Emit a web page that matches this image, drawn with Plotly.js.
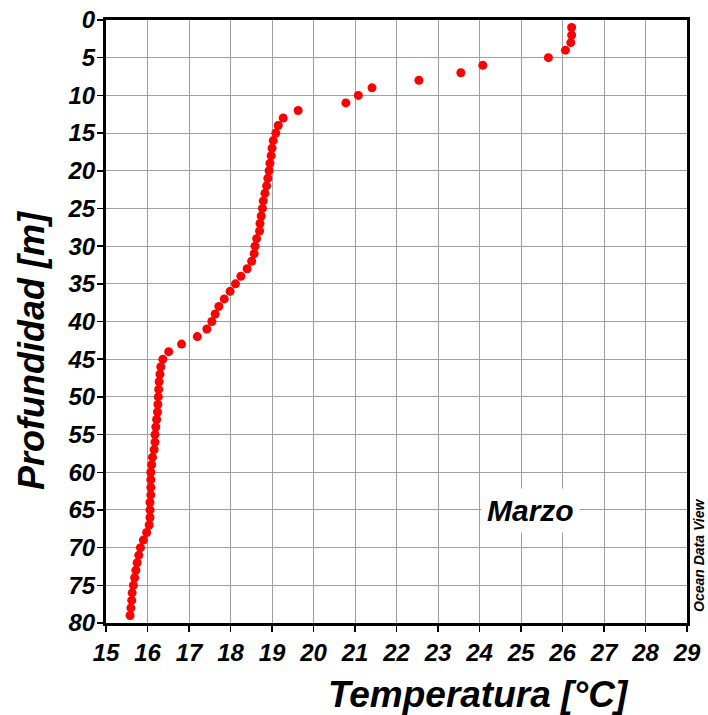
<!DOCTYPE html>
<html>
<head>
<meta charset="utf-8">
<script src="https://cdn.plot.ly/plotly-3.0.1.min.js"></script>
<style>html,body{margin:0;padding:0;background:#fff;}#chart{width:708px;height:715px;}</style>
</head>
<body>
<div id="chart"></div>
<script>
const depth = [1,2,3,4,5,6,7,8,9,10,11,12,13,14,15,16,17,18,19,20,21,22,23,24,25,26,27,28,29,30,31,32,33,34,35,36,37,38,39,40,41,42,43,44,45,46,47,48,49,50,51,52,53,54,55,56,57,58,59,60,61,62,63,64,65,66,67,68,69,70,71,72,73,74,75,76,77,78,79];
const temperature = [26.22,26.22,26.2,26.07,25.66,24.08,23.55,22.54,21.41,21.08,20.78,19.63,19.27,19.15,19.09,19.03,19.0,18.98,18.95,18.93,18.9,18.87,18.83,18.79,18.77,18.74,18.71,18.7,18.63,18.59,18.57,18.51,18.4,18.25,18.12,17.99,17.85,17.72,17.63,17.55,17.43,17.2,16.82,16.51,16.37,16.32,16.3,16.28,16.27,16.26,16.25,16.24,16.22,16.2,16.18,16.18,16.16,16.12,16.1,16.08,16.08,16.08,16.08,16.06,16.06,16.06,16.04,15.98,15.9,15.83,15.79,15.75,15.72,15.69,15.66,15.63,15.62,15.6,15.58];
const xTicks = [15,16,17,18,19,20,21,22,23,24,25,26,27,28,29];
const yTicks = [0,5,10,15,20,25,30,35,40,45,50,55,60,65,70,75,80];

const fam = '"Liberation Sans", Arial, sans-serif';
const bi = (size) => ({family: fam, size: size, color: '#000', weight: 'bold', style: 'italic'});

const trace = {
  x: temperature, y: depth, type: 'scatter', mode: 'markers',
  marker: {color: '#ff0000', size: 9, line: {width: 0}},
  hoverinfo: 'skip'
};

const L = 106, R = 21, T = 20, B = 92, W = 708, H = 715;
const pw = W - L - R, ph = H - T - B;
const px = (x) => (x - L) / pw;
const py = (y) => 1 - (y - T) / ph;

const layout = {
  width: W, height: H,
  margin: {l: L, r: R, t: T, b: B},
  paper_bgcolor: '#fff', plot_bgcolor: '#fff',
  showlegend: false,
  xaxis: {
    range: [15, 29], tickvals: xTicks, ticktext: xTicks.map(String),
    showgrid: true, gridcolor: '#a0a0a0', gridwidth: 1,
    showline: true, linecolor: '#000', linewidth: 3, mirror: true,
    ticks: 'outside', ticklen: 6, tickwidth: 1.5, tickcolor: '#000',
    tickfont: bi(24), zeroline: false
  },
  yaxis: {
    range: [80, 0], tickvals: yTicks, ticktext: yTicks.map(String),
    showgrid: true, gridcolor: '#a0a0a0', gridwidth: 1,
    showline: true, linecolor: '#000', linewidth: 3, mirror: true,
    ticks: 'outside', ticklen: 6, tickwidth: 1.5, tickcolor: '#000',
    tickfont: bi(24), zeroline: false, ticklabelstandoff: -3
  },
  annotations: [
    {x: px(478), y: py(694), xref: 'paper', yref: 'paper', xanchor: 'center', yanchor: 'middle',
     text: 'Temperatura [°C]', showarrow: false, font: bi(37)},
    {x: px(31), y: py(351), xref: 'paper', yref: 'paper', xanchor: 'center', yanchor: 'middle',
     text: 'Profundidad [m]', showarrow: false, textangle: -90, font: bi(36)},
    {x: px(530), y: py(510), xref: 'paper', yref: 'paper', xanchor: 'center', yanchor: 'middle',
     text: 'Marzo', showarrow: false, font: bi(30), bgcolor: '#fff', borderpad: 5},
    {x: px(699), y: py(556), xref: 'paper', yref: 'paper', xanchor: 'center', yanchor: 'middle',
     text: 'Ocean Data View', showarrow: false, textangle: -90, font: bi(14)}
  ]
};

Plotly.newPlot('chart', [trace], layout, {displayModeBar: false, staticPlot: true});
</script>
</body>
</html>
